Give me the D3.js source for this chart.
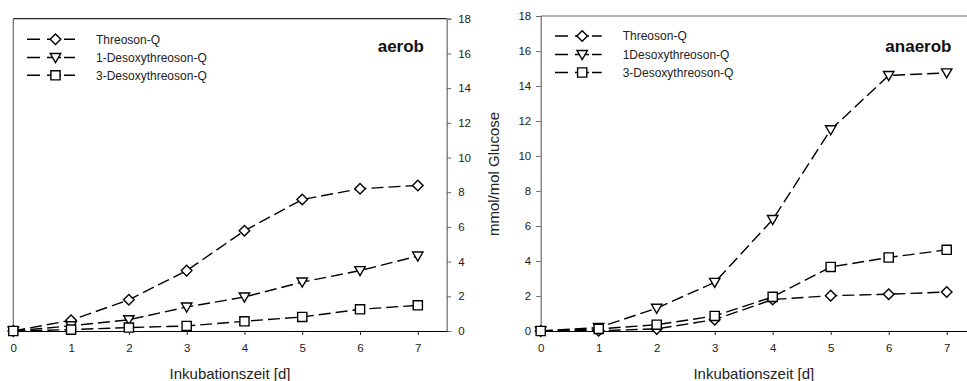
<!DOCTYPE html>
<html><head><meta charset="utf-8">
<script src="https://cdn.jsdelivr.net/npm/d3@7"></script>
<style>
html,body{margin:0;padding:0;background:#fff;}
svg{display:block;font-family:"Liberation Sans",Arial,sans-serif;}
</style></head>
<body>
<svg id="chart" width="967" height="381"></svg>
<script>
// ---- data ----
const days = [0, 1, 2, 3, 4, 5, 6, 7];
const xTicks = [0, 1, 2, 3, 4, 5, 6, 7];
const yTicks = [0, 2, 4, 6, 8, 10, 12, 14, 16, 18];
const seriesNames = ["Threoson-Q", "1-Desoxythreoson-Q", "3-Desoxythreoson-Q"];
const seriesNamesAnaerob = ["Threoson-Q", "1Desoxythreoson-Q", "3-Desoxythreoson-Q"];
const markerTypes = ["diamond", "triangle", "square"];
// aerob
const aerobThreoson = [0, 0.62, 1.8, 3.48, 5.78, 7.58, 8.2, 8.39];
const aerobDesoxy1 = [0, 0.3, 0.65, 1.38, 1.96, 2.82, 3.48, 4.32];
const aerobDesoxy3 = [0, 0.08, 0.2, 0.29, 0.56, 0.81, 1.25, 1.48];
// anaerob
const anaerobThreoson = [0, 0.02, 0.12, 0.65, 1.8, 2.02, 2.1, 2.23];
const anaerobDesoxy1 = [0, 0.2, 1.3, 2.78, 6.37, 11.5, 14.6, 14.75];
const anaerobDesoxy3 = [0, 0.12, 0.36, 0.86, 1.95, 3.66, 4.2, 4.64];
const xTitle = "Inkubationszeit [d]";
const yTitle = "mmol/mol Glucose";

const svg = d3.select("#chart");
const AX = "#6b6b6b";
const FONT = "'Liberation Sans',Arial,sans-serif";

function markerPath(type) {
  if (type === "diamond") return "M0,-5.3L5.3,0L0,5.3L-5.3,0Z";
  if (type === "triangle") return "M-5.2,-4L5.2,-4L0,5Z";
  return "M-4.6,-4.6H4.6V4.6H-4.6Z";
}

function drawPanel(cfg) {
  const g = svg.append("g");
  const x = d3.scaleLinear().domain([0, 7.5]).range(cfg.xr);
  const y = d3.scaleLinear().domain([0, 18]).range(cfg.yr);

  // frame: top and far side
  g.append("line").attr("x1", x(0)).attr("x2", x(7.5)).attr("y1", y(18)).attr("y2", y(18))
    .attr("stroke", cfg.topColor).attr("stroke-width", 1.2);
  if (cfg.leftFrame) {
    g.append("line").attr("x1", x(0)).attr("x2", x(0)).attr("y1", y(18)).attr("y2", y(0))
      .attr("stroke", AX).attr("stroke-width", 1.2);
  }

  // y axis
  const yAxis = (cfg.yRight ? d3.axisRight(y) : d3.axisLeft(y))
    .tickValues(yTicks).tickSize(4.5).tickPadding(cfg.yRight ? 7 : 5).tickFormat(d3.format("d"));
  const ya = g.append("g").attr("transform", `translate(${cfg.yRight ? x(7.5) : x(0)},0)`).call(yAxis);
  ya.select(".domain").attr("stroke", AX).attr("stroke-width", 1.2);
  ya.selectAll(".tick line").attr("stroke", AX);
  ya.selectAll(".tick text").attr("fill", "#222").style("font-size", "11.5px").style("font-family", FONT);

  // x axis
  const xAxis = d3.axisBottom(x).tickValues(xTicks).tickSize(4).tickPadding(8.5).tickSizeOuter(0);
  const xa = g.append("g").attr("transform", `translate(0,${y(0)})`).call(xAxis);
  xa.select(".domain").attr("stroke", "#000").attr("stroke-width", 1.2);
  xa.selectAll(".tick line").attr("stroke", "#222");
  xa.selectAll(".tick text").attr("fill", "#222").style("font-size", "11.5px").style("font-family", FONT);

  // x title
  g.append("text").attr("x", (x(0) + cfg.xTitleRight) / 2).attr("y", 378.5)
    .attr("text-anchor", "middle").style("font-size", "15px").attr("fill", "#222").text(xTitle);

  // lines
  const line = d3.line().x((d, i) => x(days[i])).y(d => y(d));
  cfg.series.forEach(s => {
    g.append("path").datum(s).attr("d", line).attr("fill", "none")
      .attr("stroke", "#000").attr("stroke-width", 1.4).attr("stroke-dasharray", "12,5");
  });
  cfg.series.forEach((s, k) => {
    g.selectAll(null).data(s).enter().append("path")
      .attr("d", markerPath(markerTypes[k]))
      .attr("transform", (d, i) => `translate(${x(days[i])},${y(d)})`)
      .attr("fill", "#fff").attr("stroke", "#000").attr("stroke-width", 1.4);
  });

  // legend
  const lg = g.append("g");
  cfg.names.forEach((n, k) => {
    const ly = cfg.legY[k];
    lg.append("line").attr("x1", cfg.legX[0]).attr("x2", cfg.legX[1]).attr("y1", ly).attr("y2", ly)
      .attr("stroke", "#000").attr("stroke-width", 1.4).attr("stroke-dasharray", "13,7,14,3,30");
    lg.append("path").attr("d", markerPath(markerTypes[k]))
      .attr("transform", `translate(${cfg.legX[1] - 19.5},${ly})`)
      .attr("fill", "#fff").attr("stroke", "#000").attr("stroke-width", 1.4);
    lg.append("text").attr("x", cfg.legX[1] + 21).attr("y", ly).attr("dy", "0.35em")
      .style("font-size", "12px").attr("fill", "#222").text(n);
  });

  // title
  g.append("text").attr("x", cfg.titleX).attr("y", 52).attr("text-anchor", "end")
    .style("font-size", "17px").style("font-weight", "bold").attr("fill", "#111").text(cfg.title);
}

drawPanel({
  id: "a", xr: [13.3, 446.7], yr: [331, 18.7], yRight: true, leftFrame: true, topColor: "#222",
  xTitleRight: 446.7,
  series: [aerobThreoson, aerobDesoxy1, aerobDesoxy3], names: seriesNames,
  legX: [27, 75], legY: [39.3, 57.5, 75.3], title: "aerob", titleX: 424
});
drawPanel({
  id: "b", xr: [540.7, 975.7], yr: [331, 16], yRight: false, leftFrame: false, topColor: AX,
  xTitleRight: 967,
  series: [anaerobThreoson, anaerobDesoxy1, anaerobDesoxy3], names: seriesNamesAnaerob,
  legX: [555, 601.7], legY: [36, 54.5, 72.5], title: "anaerob", titleX: 951.5
});

// shared y title
svg.append("text").attr("transform", "translate(499,174) rotate(-90)")
  .attr("text-anchor", "middle").style("font-size", "15px").attr("fill", "#222").text(yTitle);
</script>
</body></html>
